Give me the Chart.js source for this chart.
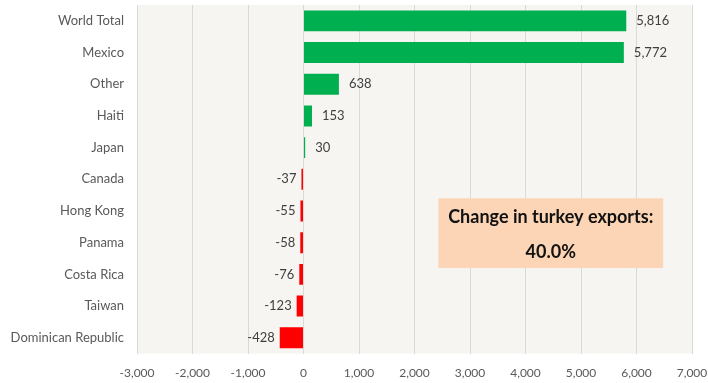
<!DOCTYPE html>
<html>
<head>
<meta charset="utf-8">
<script src="https://cdn.jsdelivr.net/npm/chart.js@4"></script>
<style>
    html, body { margin: 0; padding: 0; background: #ffffff; }
    #wrap { width: 708px; height: 383px; }
</style>
</head>
<body>
<div id="wrap"><canvas id="chart"></canvas></div>
<script>
/**
 * Countries, top to bottom as in the picture.
 * @type {string[]}
 */
const countries = ["World Total", "Mexico", "Other", "Haiti", "Japan", "Canada",
    "Hong Kong", "Panama", "Costa Rica", "Taiwan", "Dominican Republic"];

/**
 * Change in turkey exports per country.
 * @type {number[]}
 */
const changes = [5816, 5772, 638, 153, 30, -37, -55, -58, -76, -123, -428];

const xTicks = [-3000, -2000, -1000, 0, 1000, 2000, 3000, 4000, 5000, 6000, 7000];

const boxLines = ["Change in turkey exports:", "40.0%"];

const FONT = "Lato, 'Open Sans', sans-serif";

let plotBackground = {
    id: 'plotBackground',
    beforeDraw(chart) {
        const a = chart.chartArea;
        const ctx = chart.ctx;
        ctx.save();
        ctx.fillStyle = '#f6f5f1';
        ctx.fillRect(a.left, a.top, a.right - a.left, a.bottom - a.top);
        ctx.restore();
    }
};

/**
 * draws the value next to each bar and the note box
 */
let valueLabels = {
    id: 'valueLabels',
    afterDatasetsDraw(chart) {
        const ctx = chart.ctx;
        const meta = chart.getDatasetMeta(0);
        ctx.save();
        ctx.font = "13px " + FONT;
        ctx.fillStyle = '#404040';
        ctx.textBaseline = 'middle';
        meta.data.forEach(function (bar, i) {
            const v = changes[i];
            const text = v.toLocaleString('en-US');
            if (v >= 0) {
                ctx.textAlign = 'left';
                ctx.fillText(text, bar.x + 10, bar.y);
            } else {
                ctx.textAlign = 'right';
                ctx.fillText(text, bar.x - 5, bar.y);
            }
        });

        // note box, placed through the scales
        const xs = chart.scales.x;
        const ys = chart.scales.y;
        const left = xs.getPixelForValue(2430);
        const right = xs.getPixelForValue(6480);
        const top = ys.getPixelForValue(5.6);
        const bottom = ys.getPixelForValue(7.8);
        ctx.fillStyle = '#fbd5b5';
        ctx.fillRect(left, top, right - left, bottom - top);
        ctx.fillStyle = '#111111';
        ctx.font = "bold 18px " + FONT;
        ctx.textAlign = 'center';
        const cx = (left + right) / 2;
        ctx.fillText(boxLines[0], cx, top + 19);
        ctx.fillText(boxLines[1], cx, top + 54);
        ctx.restore();
    }
};

new Chart(document.getElementById('chart'), {
    type: 'bar',
    data: {
        labels: countries,
        datasets: [{
            data: changes,
            backgroundColor: changes.map(v => v >= 0 ? '#00b050' : '#ff0000'),
            categoryPercentage: 1,
            barPercentage: 0.66
        }]
    },
    options: {
        indexAxis: 'y',
        responsive: true,
        maintainAspectRatio: false,
        animation: false,
        layout: { padding: { top: 5, right: 16, bottom: -9, left: 0 } },
        plugins: {
            legend: { display: false },
            tooltip: { enabled: false }
        },
        scales: {
            x: {
                min: -3000,
                max: 7000,
                afterBuildTicks(axis) {
                    axis.ticks = xTicks.map(v => ({ value: v }));
                },
                afterFit(axis) {
                    axis.paddingLeft = 0;
                    axis.paddingRight = 0;
                },
                grid: { color: '#d9d9d9', drawTicks: false },
                border: { display: false },
                ticks: {
                    padding: 12,
                    color: '#595959',
                    font: { family: FONT, size: 12 },
                    callback: v => v.toLocaleString('en-US')
                }
            },
            y: {
                afterFit(axis) {
                    axis.width = 137;
                    axis.paddingTop = 0;
                    axis.paddingBottom = 0;
                },
                grid: { display: false },
                border: { display: true, color: '#d9d9d9' },
                ticks: {
                    padding: 5,
                    color: '#595959',
                    font: { family: FONT, size: 13 }
                }
            }
        }
    },
    plugins: [plotBackground, valueLabels]
});
</script>
</body>
</html>
